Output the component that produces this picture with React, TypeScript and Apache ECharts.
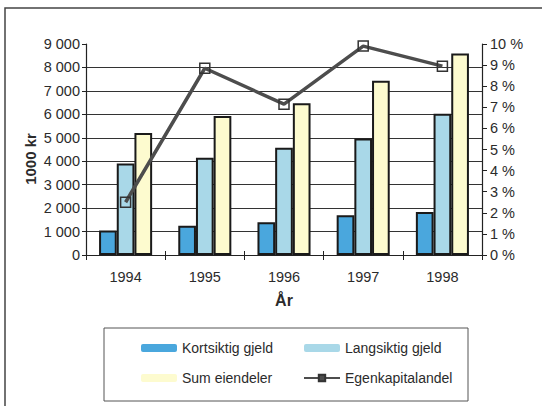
import React, { useEffect, useRef } from "react";
import * as echarts from "echarts";

const categories = ["1994", "1995", "1996", "1997", "1998"];
const kortsiktig = [1050, 1250, 1400, 1700, 1830];
const langsiktig = [3900, 4150, 4570, 4970, 6030];
const sumEiendeler = [5200, 5930, 6470, 7430, 8600];
const egenkapital = [2.5, 8.85, 7.15, 9.9, 8.95];

const FONT = "'Liberation Sans Narrow', 'Arial Narrow', 'Liberation Sans', Arial, sans-serif";
const TXT = "#2b2b2b";

function fmtKr(v: number): string {
  if (v >= 1000) {
    return `${Math.floor(v / 1000)} ${String(v % 1000).padStart(3, "0")}`;
  }
  return String(v);
}

const withBorder = (vals: number[]) =>
  vals.map((v) => ({ value: v, itemStyle: { borderColor: "#1a1a1a", borderWidth: 2 } }));

export default function App() {
  const ref = useRef<HTMLDivElement>(null);
  useEffect(() => {
    if (!ref.current) return;
    const chart = echarts.init(ref.current, undefined, { renderer: "svg" });
    chart.setOption({
      animation: false,
      backgroundColor: "#ffffff",
      textStyle: { fontFamily: FONT, color: TXT },
      grid: { left: 86, right: 60, top: 44, bottom: 151, containLabel: false },
      xAxis: [
        {
          type: "category",
          data: categories,
          axisLine: { lineStyle: { color: "#222", width: 1.2 } },
          axisTick: { show: true, length: 5, lineStyle: { color: "#222" } },
          axisLabel: { fontFamily: FONT, fontSize: 14.5, color: TXT, margin: 14 },
        },
        {
          type: "category",
          data: categories,
          position: "bottom",
          axisLine: { show: false },
          axisTick: { show: true, inside: true, length: 4, lineStyle: { color: "#222" } },
          axisLabel: { show: false },
        },
      ],
      yAxis: [
        {
          type: "value",
          min: 0,
          max: 9000,
          interval: 1000,
          axisLine: { show: true, lineStyle: { color: "#222", width: 1.2 } },
          axisTick: { show: true, length: 4, lineStyle: { color: "#222" } },
          axisLabel: { fontFamily: FONT, fontSize: 14.5, color: TXT, margin: 6, formatter: fmtKr },
          splitLine: { show: true, showMaxLine: false, lineStyle: { color: "#333", width: 1 } },
        },
        {
          type: "value",
          min: 0,
          max: 10,
          interval: 1,
          position: "right",
          axisLine: { show: true, lineStyle: { color: "#222", width: 1.2 } },
          axisTick: { show: true, length: 5, lineStyle: { color: "#222" } },
          axisLabel: { fontFamily: FONT, fontSize: 14.5, color: TXT, margin: 8, formatter: "{value} %" },
          splitLine: { show: false },
        },
      ],
      legend: [
        {
          orient: "vertical",
          left: 136,
          top: 335,
          itemWidth: 36,
          itemHeight: 8,
          itemGap: 14,
          textStyle: { fontFamily: FONT, fontSize: 14, color: TXT, lineHeight: 16 },
          data: ["Kortsiktig gjeld", "Sum eiendeler"],
        },
        {
          orient: "vertical",
          left: 298,
          top: 335,
          itemWidth: 36,
          itemHeight: 8,
          itemGap: 14,
          textStyle: { fontFamily: FONT, fontSize: 14, color: TXT, lineHeight: 16 },
          data: [
            "Langsiktig gjeld",
            { name: "Egenkapitalandel", itemStyle: { color: "#4d4d4d" } },
          ],
        },
      ],
      series: [
        {
          name: "Kortsiktig gjeld",
          type: "bar",
          data: withBorder(kortsiktig),
          barGap: "0%",
          barCategoryGap: "33%",
          itemStyle: { color: "#4aa7dd" },
        },
        {
          name: "Langsiktig gjeld",
          type: "bar",
          data: withBorder(langsiktig),
          barGap: "0%",
          barCategoryGap: "33%",
          itemStyle: { color: "#a9d8e8" },
        },
        {
          name: "Sum eiendeler",
          type: "bar",
          data: withBorder(sumEiendeler),
          barGap: "0%",
          barCategoryGap: "33%",
          itemStyle: { color: "#fdfbcf" },
        },
        {
          name: "Egenkapitalandel",
          type: "line",
          yAxisIndex: 1,
          data: egenkapital,
          z: 5,
          symbol: "rect",
          symbolSize: 10,
          lineStyle: { color: "#4d4d4d", width: 3.5 },
          itemStyle: { color: "rgba(255,255,255,0)", borderColor: "#333", borderWidth: 1.5 },
        },
      ],
      graphic: [
        {
          type: "rect",
          shape: { x: 5, y: 8, width: 560, height: 420 },
          style: { fill: "none", stroke: "#444", lineWidth: 1.5 },
          silent: true,
        },
        {
          type: "rect",
          shape: { x: 104, y: 328, width: 364, height: 73 },
          style: { fill: "none", stroke: "#555", lineWidth: 1 },
          silent: true,
        },
        {
          type: "text",
          x: 30,
          y: 159,
          rotation: Math.PI / 2,
          style: {
            text: "1000 kr",
            fontFamily: "'Liberation Sans', Arial, sans-serif",
            fontWeight: "bold",
            fontSize: 15,
            fill: TXT,
            textAlign: "center",
            textVerticalAlign: "middle",
          },
        },
        {
          type: "text",
          x: 284,
          y: 300,
          style: {
            text: "År",
            fontFamily: FONT,
            fontWeight: "bold",
            fontSize: 16,
            fill: TXT,
            textAlign: "center",
            textVerticalAlign: "middle",
          },
        },
      ],
    });
    return () => chart.dispose();
  }, []);
  return (
    <div
      ref={ref}
      style={{ position: "fixed", left: 0, top: 0, width: 542, height: 406, background: "#fff" }}
    />
  );
}
